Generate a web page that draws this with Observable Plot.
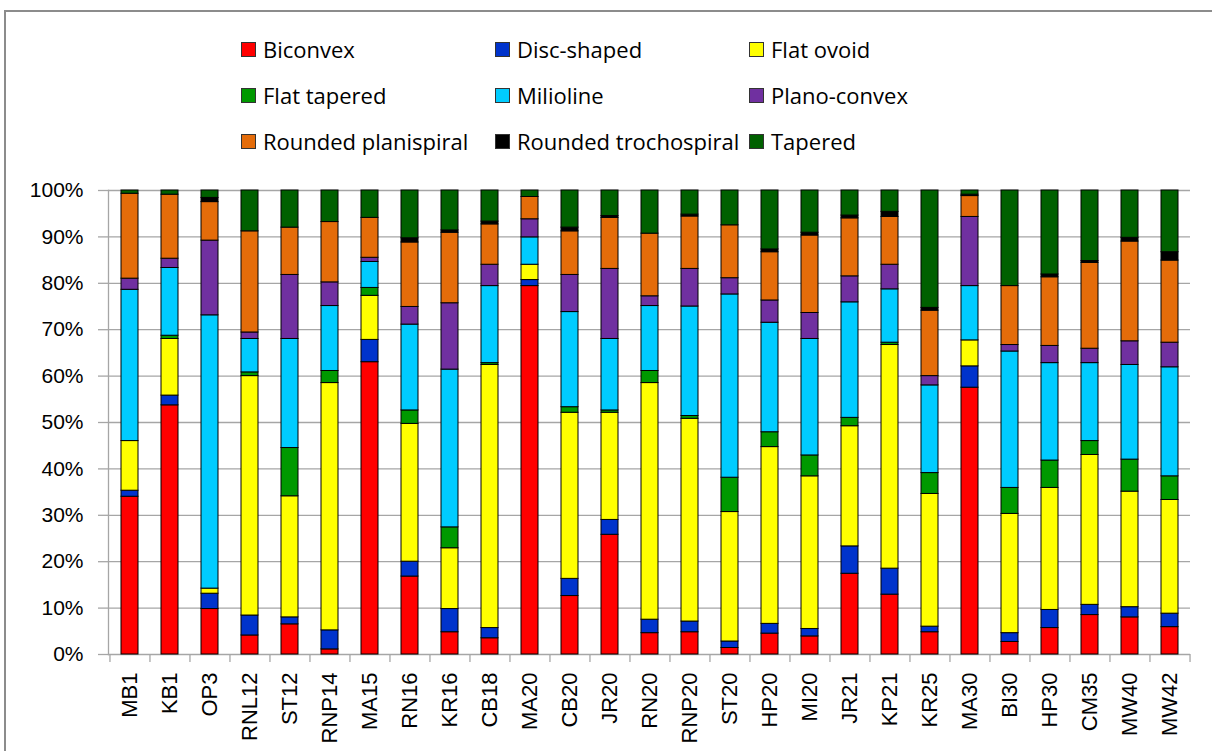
<!DOCTYPE html>
<html>
<head>
<meta charset="utf-8">
<script src="https://cdn.jsdelivr.net/npm/d3@7"></script>
<script src="https://cdn.jsdelivr.net/npm/@observablehq/plot@0.6"></script>
<style>
  body { margin: 0; background: #fff; }
  #wrap { position: relative; width: 1212px; height: 751px; overflow: hidden; background: #fff; }
  #border { position: absolute; left: 4px; top: 10px; width: 1240px; height: 780px; border: 2px solid #8c8c8c; box-sizing: border-box; }
  #chart { position: absolute; left: 0; top: 0; }
  #legend { position: absolute; left: 0; top: 0; font-family: "Open Sans", sans-serif; font-size: 22px; color: #000; }
  .item { position: absolute; display: flex; align-items: center; white-space: nowrap; height: 28px; line-height: 28px; }
  .sw { width: 13px; height: 13px; border: 1px solid #333; margin-right: 7px; flex: none; }
</style>
</head>
<body>
<div id="wrap">
  <div id="border"></div>
  <div id="chart"></div>
  <div id="legend"></div>
</div>
<script>
const sites = ["MB1","KB1","OP3","RNL12","ST12","RNP14","MA15","RN16","KR16","CB18","MA20","CB20","JR20","RN20","RNP20","ST20","HP20","MI20","JR21","KP21","KR25","MA30","BI30","HP30","CM35","MW40","MW42"];
const types = ["Biconvex","Disc-shaped","Flat ovoid","Flat tapered","Milioline","Plano-convex","Rounded planispiral","Rounded trochospiral","Tapered"];
const colors = ["#ff0000","#0033cc","#ffff00","#009900","#00ccff","#7030a0","#e46c0a","#000000","#006000"];
const yTicks = [0,10,20,30,40,50,60,70,80,90,100];

const biconvex = [34.0,53.7,9.8,4.1,6.5,1.1,63.0,16.8,4.8,3.5,79.4,12.6,25.8,4.6,4.8,1.4,4.5,3.9,17.4,12.9,4.8,57.5,2.7,5.7,8.5,8.0,5.9];
const discShaped = [1.3,2.1,3.3,4.3,1.5,4.1,4.8,3.2,5.0,2.2,1.3,3.7,3.2,2.9,2.3,1.4,2.1,1.6,5.9,5.6,1.2,4.6,1.9,3.9,2.2,2.2,2.9];
const flatOvoid = [10.7,12.2,1.1,51.6,26.1,53.3,9.5,29.7,13.1,56.7,3.3,35.8,23.1,51.0,43.7,27.9,38.1,32.9,25.9,48.2,28.6,5.6,25.7,26.3,32.3,24.9,24.5];
const flatTapered = [0,0.7,0,0.8,10.4,2.6,1.7,2.9,4.5,0.4,0,1.2,0.5,2.6,0.6,7.4,3.2,4.5,1.8,0.5,4.5,0,5.6,5.9,3.0,6.9,5.1];
const milioline = [32.6,14.6,58.9,7.2,23.5,14.0,5.6,18.5,34.0,16.6,5.9,20.5,15.4,14.0,23.6,39.5,23.6,25.1,24.9,11.5,18.9,11.7,29.4,21.0,16.8,20.4,23.5];
const planoConvex = [2.4,2.0,16.1,1.4,13.8,5.1,0.9,3.8,14.3,4.6,3.9,8.0,15.1,2.1,8.1,3.5,4.8,5.6,5.6,5.3,2.0,14.9,1.4,3.7,3.1,5.1,5.3];
const roundedPlanispiral = [18.3,13.8,8.3,21.8,10.2,13.0,8.6,13.9,15.2,8.7,4.8,9.4,11.0,13.5,11.3,11.4,10.4,16.7,12.5,10.3,14.1,4.5,12.7,14.8,18.5,21.5,17.7];
const roundedTrochospiral = [0,0,0.9,0,0,0,0,0.9,0.5,0.6,0,0.8,0.4,0,0.4,0,0.6,0.6,0.6,1.1,0.6,0.3,0,0.6,0.4,0.8,1.8];
const tapered = [0.7,0.9,1.6,8.8,8.0,6.8,5.9,10.3,8.6,6.7,1.4,8.0,5.5,9.3,5.2,7.5,12.7,9.1,5.4,4.6,25.3,0.9,20.6,18.1,15.2,10.2,13.3];

const series = [biconvex, discShaped, flatOvoid, flatTapered, milioline, planoConvex, roundedPlanispiral, roundedTrochospiral, tapered];

const rows = [];
sites.forEach((s, i) => {
  types.forEach((t, j) => {
    const v = series[j][i];
    if (v > 0) rows.push({site: s, type: t, value: v});
  });
});

const W = 1212, H = 751, ml = 108, mr = 22, mt = 190, mb = 97;
const step = (W - ml - mr) / sites.length;

const plot = Plot.plot({
  width: W,
  height: H,
  marginLeft: ml,
  marginRight: mr,
  marginTop: mt,
  marginBottom: mb,
  style: {fontFamily: "'Liberation Sans', Arial, sans-serif", fontSize: "21px", color: "#000", background: "transparent"},
  x: {domain: sites, paddingInner: 0.58, paddingOuter: 0.29, label: null},
  y: {domain: [0, 100], label: null},
  color: {domain: types, range: colors},
  marks: [
    Plot.gridY(yTicks, {stroke: "#a6a6a6", strokeOpacity: 1, strokeWidth: 1.3}),
    Plot.axisY(yTicks, {tickSize: 10, tickPadding: 15, tickFormat: d => d + "%", stroke: "#a6a6a6", strokeWidth: 1.3, fontSize: 21, fill: "#000", label: null}),
    Plot.frame({anchor: "left", stroke: "#a6a6a6", strokeWidth: 1.3}),
    Plot.axisX(sites, {tickSize: 8, dx: -step / 2, tickFormat: () => "", stroke: "#a6a6a6", strokeWidth: 1.3, label: null}),
    Plot.axisX([sites[sites.length - 1]], {tickSize: 8, dx: step / 2, tickFormat: () => "", stroke: "#a6a6a6", strokeWidth: 1.3, label: null}),
    Plot.axisX({tickSize: 0, tickPadding: 18, tickRotate: -90, fontSize: 22, fill: "#000", label: null}),
    Plot.barY(rows, {x: "site", y: "value", fill: "type", stroke: "#000", strokeWidth: 1, order: types})
  ]
});
document.getElementById("chart").appendChild(plot);

// legend
const legend = document.getElementById("legend");
const colX = [241, 495, 749];
const rowY = [49, 95, 141];
types.forEach((t, i) => {
  const c = i % 3, r = Math.floor(i / 3);
  const item = document.createElement("div");
  item.className = "item";
  item.style.left = colX[c] + "px";
  item.style.top = (rowY[r] - 14) + "px";
  const sw = document.createElement("div");
  sw.className = "sw";
  sw.style.background = colors[i];
  const lab = document.createElement("span");
  lab.textContent = t;
  item.appendChild(sw);
  item.appendChild(lab);
  legend.appendChild(item);
});
</script>
</body>
</html>
